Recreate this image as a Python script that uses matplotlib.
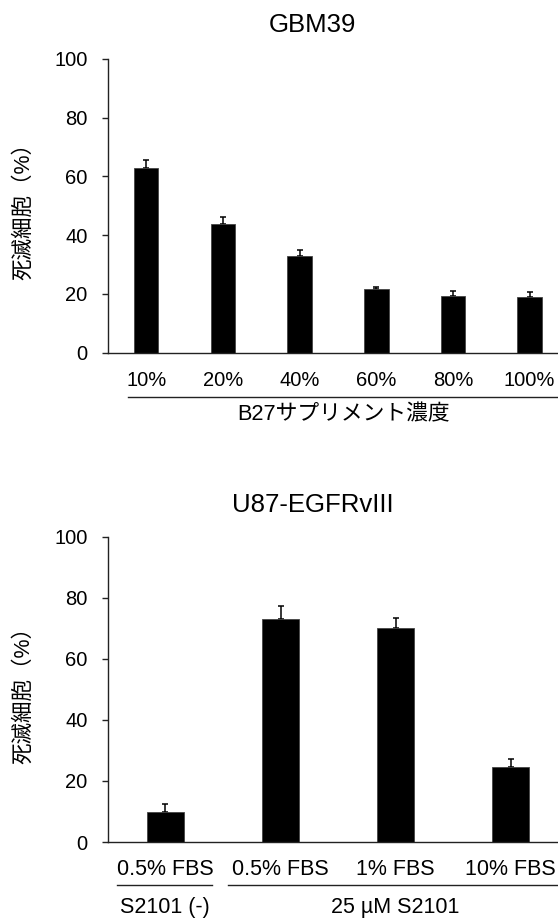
import numpy as np
import matplotlib
matplotlib.use('Agg')
import matplotlib.pyplot as plt

plt.rcParams['font.family'] = ['Liberation Sans', 'Noto Sans CJK JP', 'DejaVu Sans']

# GBM39 panel
gbm_labels = ["10%", "20%", "40%", "60%", "80%", "100%"]
gbm_values = [62.8, 43.8, 33.0, 21.6, 19.3, 19.1]
gbm_errors = [2.8, 2.3, 2.0, 0.7, 1.8, 1.5]
gbm_group = "B27サプリメント濃度"

# U87-EGFRvIII panel
u87_labels = ["0.5% FBS", "0.5% FBS", "1% FBS", "10% FBS"]
u87_values = [9.8, 73.2, 70.1, 24.6]
u87_errors = [2.8, 4.2, 3.2, 2.7]
u87_groups = ["S2101 (-)", "25 µM S2101"]

ylabel = "死滅細胞（%）"
W, H = 558, 918

fig = plt.figure(figsize=(W / 100, H / 100), dpi=100)


def panel(rect, labels, values, errors, xright, axh_px, lab_pt):
    ax = fig.add_axes(rect)
    x = np.arange(len(labels))
    ax.bar(x, values, width=0.32, color='black', edgecolor='#444444', linewidth=0.6, zorder=2)
    ax.errorbar(x, values, yerr=[np.zeros(len(errors)), errors], fmt='none',
                ecolor='black', elinewidth=1.1, capsize=2.0, capthick=1.1, zorder=1)
    ax.set_xlim(-0.5, xright)
    ax.set_ylim(0, 100)
    ax.set_yticks(range(0, 101, 20))
    ax.set_xticks([])
    for s in ['top', 'right']:
        ax.spines[s].set_visible(False)
    for s in ['left', 'bottom']:
        ax.spines[s].set_linewidth(1.0)
        ax.spines[s].set_color('#222222')
    ax.tick_params(axis='y', direction='out', length=4.6, width=1.0, color='#222222',
                   pad=10, labelsize=14.5)
    tr = ax.get_xaxis_transform()
    for xi, lab in zip(x, labels):
        ax.text(xi, -27.3 / axh_px, lab, transform=tr, ha='center', va='center',
                fontsize=lab_pt, clip_on=False)
    return ax, tr


# top panel
ax1, tr1 = panel([107.8 / W, 1 - 352.7 / H, 1 - 107.8 / W, 293.7 / H],
                 gbm_labels, gbm_values, gbm_errors, 5.37, 293.7, 14.5)
ax1.plot([-0.235, 5.4], [-44.6 / 293.7] * 2, transform=tr1, color='#222222',
         lw=1.0, clip_on=False)
ax1.text(2.57, -62.3 / 293.7, gbm_group, transform=tr1, ha='center', va='center',
         fontsize=15.7, clip_on=False)
fig.text(312 / W, 1 - 25 / H, "GBM39", ha='center', va='center', fontsize=18.5)
fig.text(24 / W, 1 - 205.5 / H, ylabel, ha='center', va='center', rotation=90, fontsize=15.5)

# bottom panel
ax2, tr2 = panel([107.8 / W, 1 - 842 / H, 1 - 107.8 / W, 305.3 / H],
                 u87_labels, u87_values, u87_errors, 3.41, 305.3, 15.5)
ax2.plot([-0.423, 0.403], [-43 / 305.3] * 2, transform=tr2, color='#222222',
         lw=1.0, clip_on=False)
ax2.plot([0.547, 3.5], [-43 / 305.3] * 2, transform=tr2, color='#222222',
         lw=1.0, clip_on=False)
ax2.text(0.0, -65.5 / 305.3, u87_groups[0], transform=tr2, ha='center', va='center',
         fontsize=15.5, clip_on=False)
ax2.text(2.0, -65.5 / 305.3, u87_groups[1], transform=tr2, ha='center', va='center',
         fontsize=15.5, clip_on=False)
fig.text(313 / W, 1 - 505 / H, "U87-EGFRvIII", ha='center', va='center', fontsize=18.5)
fig.text(24 / W, 1 - 690 / H, ylabel, ha='center', va='center', rotation=90, fontsize=15.5)

fig.savefig('out.png', dpi=100)
